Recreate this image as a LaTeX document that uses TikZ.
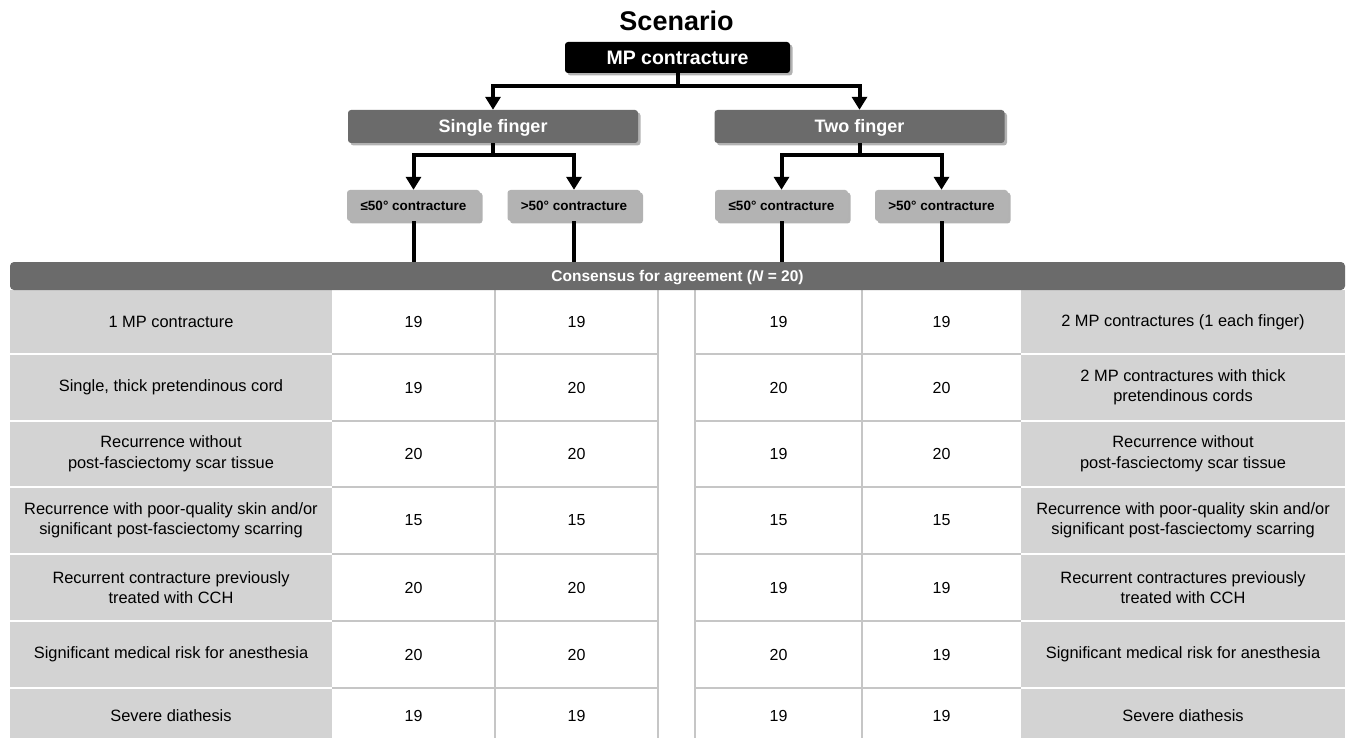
\documentclass[tikz,border=0pt]{standalone}
\usepackage{fontspec}
\setmainfont{Liberation Sans}
\usetikzlibrary{arrows.meta,shadows,calc}
\definecolor{boxdark}{HTML}{6B6B6B}
\definecolor{boxlight}{HTML}{B3B3B3}
\definecolor{cellgray}{HTML}{D3D3D3}
\definecolor{gridgray}{HTML}{C6C6C6}
\begin{document}
\begin{tikzpicture}[x=1pt,y=-1pt,
 shad/.style={drop shadow={shadow xshift=2.5pt,shadow yshift=-2.5pt,opacity=0.3,fill=black}},
 capbox/.style={text depth=0pt,inner sep=0pt,rounded corners=3pt,shad},
 topbox/.style={capbox,text height=14pt,fill=black,text=white,font=\fontsize{19.5}{22}\selectfont\bfseries,minimum width=225pt,minimum height=31pt},
 midbox/.style={capbox,text height=13pt,fill=boxdark,text=white,font=\fontsize{18}{21}\selectfont\bfseries,minimum width=290pt,minimum height=33pt},
 smallbox/.style={capbox,text height=9.7pt,fill=boxlight,text=black,font=\fontsize{13.5}{15}\selectfont\bfseries,minimum width=133pt,minimum height=31pt},
 conn/.style={line width=4pt,-{Triangle[length=13pt,width=15pt]}},
 link/.style={line width=4pt},
 hdrbox/.style={fill=boxdark,text=white,font=\fontsize{15.5}{17}\selectfont\bfseries,minimum width=1335pt,minimum height=28pt,rounded corners=4pt,inner sep=0pt,text height=11.2pt,text depth=0pt},
 lab/.style={font=\fontsize{16.4}{20.5}\selectfont,align=center,text=black,inner sep=0pt},
 num/.style={font=\fontsize{16}{20}\selectfont,text=black,inner sep=0pt},
 gridw/.style={white,line width=2.5pt},
 gridg/.style={gridgray,line width=1.2pt},
]
\clip (0,0) rectangle (1349,738);
\fill[white] (0,0) rectangle (1349,738);

% title and tree
\node[font=\fontsize{27}{30}\selectfont\bfseries] (title) at (676.5,21) {Scenario};
\node[topbox] (mp) at (677.5,57.5) {MP contracture};
\node[midbox] (sf) at (493,126.5) {Single finger};
\node[midbox] (tf) at (859.5,126.5) {Two finger};
\node[smallbox] (s1) at (413.5,205.5) {≤50° contracture};
\node[smallbox] (s2) at (574,205.5) {>50° contracture};
\node[smallbox] (t1) at (781.5,205.5) {≤50° contracture};
\node[smallbox] (t2) at (941.5,205.5) {>50° contracture};

\draw[conn] (mp.south) -- ++(0,13) -| (sf.north);
\draw[conn] (mp.south) -- ++(0,13) -| (tf.north);
\draw[conn] (sf.south) -- ++(0,12) -| (s1.north);
\draw[conn] (sf.south) -- ++(0,12) -| (s2.north);
\draw[conn] (tf.south) -- ++(0,12) -| (t1.north);
\draw[conn] (tf.south) -- ++(0,12) -| (t2.north);

% table
\fill[cellgray] (10,290) rectangle (332,755);
\fill[cellgray] (1021,290) rectangle (1345,755);
\foreach \y in {354,421,487,554,621,688} {
  \draw[gridw] (10,\y) -- (332,\y);
  \draw[gridw] (1021,\y) -- (1345,\y);
  \draw[gridg] (332,\y) -- (658,\y);
  \draw[gridg] (695,\y) -- (1021,\y);
}
\foreach \x in {495,658,695,862} \draw[gridg] (\x,290) -- (\x,755);

\node[hdrbox] (hdr) at (677.5,276) {Consensus for agreement (\textit{N} = 20)};
\draw[link] (s1.south) -- (s1.south |- hdr.north);
\draw[link] (s2.south) -- (s2.south |- hdr.north);
\draw[link] (t1.south) -- (t1.south |- hdr.north);
\draw[link] (t2.south) -- (t2.south |- hdr.north);

% row 1
\node[lab] (l1) at (171,322) {1 MP contracture};
\node[num] (a1) at (413.5,322) {19};
\node[num] (b1) at (576.5,322) {19};
\node[num] (c1) at (778.5,322) {19};
\node[num] (d1) at (941.5,322) {19};
\node[lab] (r1) at (1183,322) {2 MP contractures (1 each finger)};
% row 2
\node[lab] (l2) at (171,387.5) {Single, thick pretendinous cord};
\node[num] (a2) at (413.5,387.5) {19};
\node[num] (b2) at (576.5,387.5) {20};
\node[num] (c2) at (778.5,387.5) {20};
\node[num] (d2) at (941.5,387.5) {20};
\node[lab] (r2) at (1183,387.5) {2 MP contractures with thick\\pretendinous cords};
% row 3
\node[lab] (l3) at (171,454) {Recurrence without\\post-fasciectomy scar tissue};
\node[num] (a3) at (413.5,454) {20};
\node[num] (b3) at (576.5,454) {20};
\node[num] (c3) at (778.5,454) {19};
\node[num] (d3) at (941.5,454) {20};
\node[lab] (r3) at (1183,454) {Recurrence without\\post-fasciectomy scar tissue};
% row 4
\node[lab] (l4) at (171,520.5) {Recurrence with poor-quality skin and/or\\significant post-fasciectomy scarring};
\node[num] (a4) at (413.5,520.5) {15};
\node[num] (b4) at (576.5,520.5) {15};
\node[num] (c4) at (778.5,520.5) {15};
\node[num] (d4) at (941.5,520.5) {15};
\node[lab] (r4) at (1183,520.5) {Recurrence with poor-quality skin and/or\\significant post-fasciectomy scarring};
% row 5
\node[lab] (l5) at (171,587.5) {Recurrent contracture previously\\treated with CCH};
\node[num] (a5) at (413.5,587.5) {20};
\node[num] (b5) at (576.5,587.5) {20};
\node[num] (c5) at (778.5,587.5) {19};
\node[num] (d5) at (941.5,587.5) {19};
\node[lab] (r5) at (1183,587.5) {Recurrent contractures previously\\treated with CCH};
% row 6
\node[lab] (l6) at (171,654.5) {Significant medical risk for anesthesia};
\node[num] (a6) at (413.5,654.5) {20};
\node[num] (b6) at (576.5,654.5) {20};
\node[num] (c6) at (778.5,654.5) {20};
\node[num] (d6) at (941.5,654.5) {19};
\node[lab] (r6) at (1183,654.5) {Significant medical risk for anesthesia};
% row 7
\node[lab] (l7) at (171,716) {Severe diathesis};
\node[num] (a7) at (413.5,716) {19};
\node[num] (b7) at (576.5,716) {19};
\node[num] (c7) at (778.5,716) {19};
\node[num] (d7) at (941.5,716) {19};
\node[lab] (r7) at (1183,716) {Severe diathesis};
\end{tikzpicture}
\end{document}
